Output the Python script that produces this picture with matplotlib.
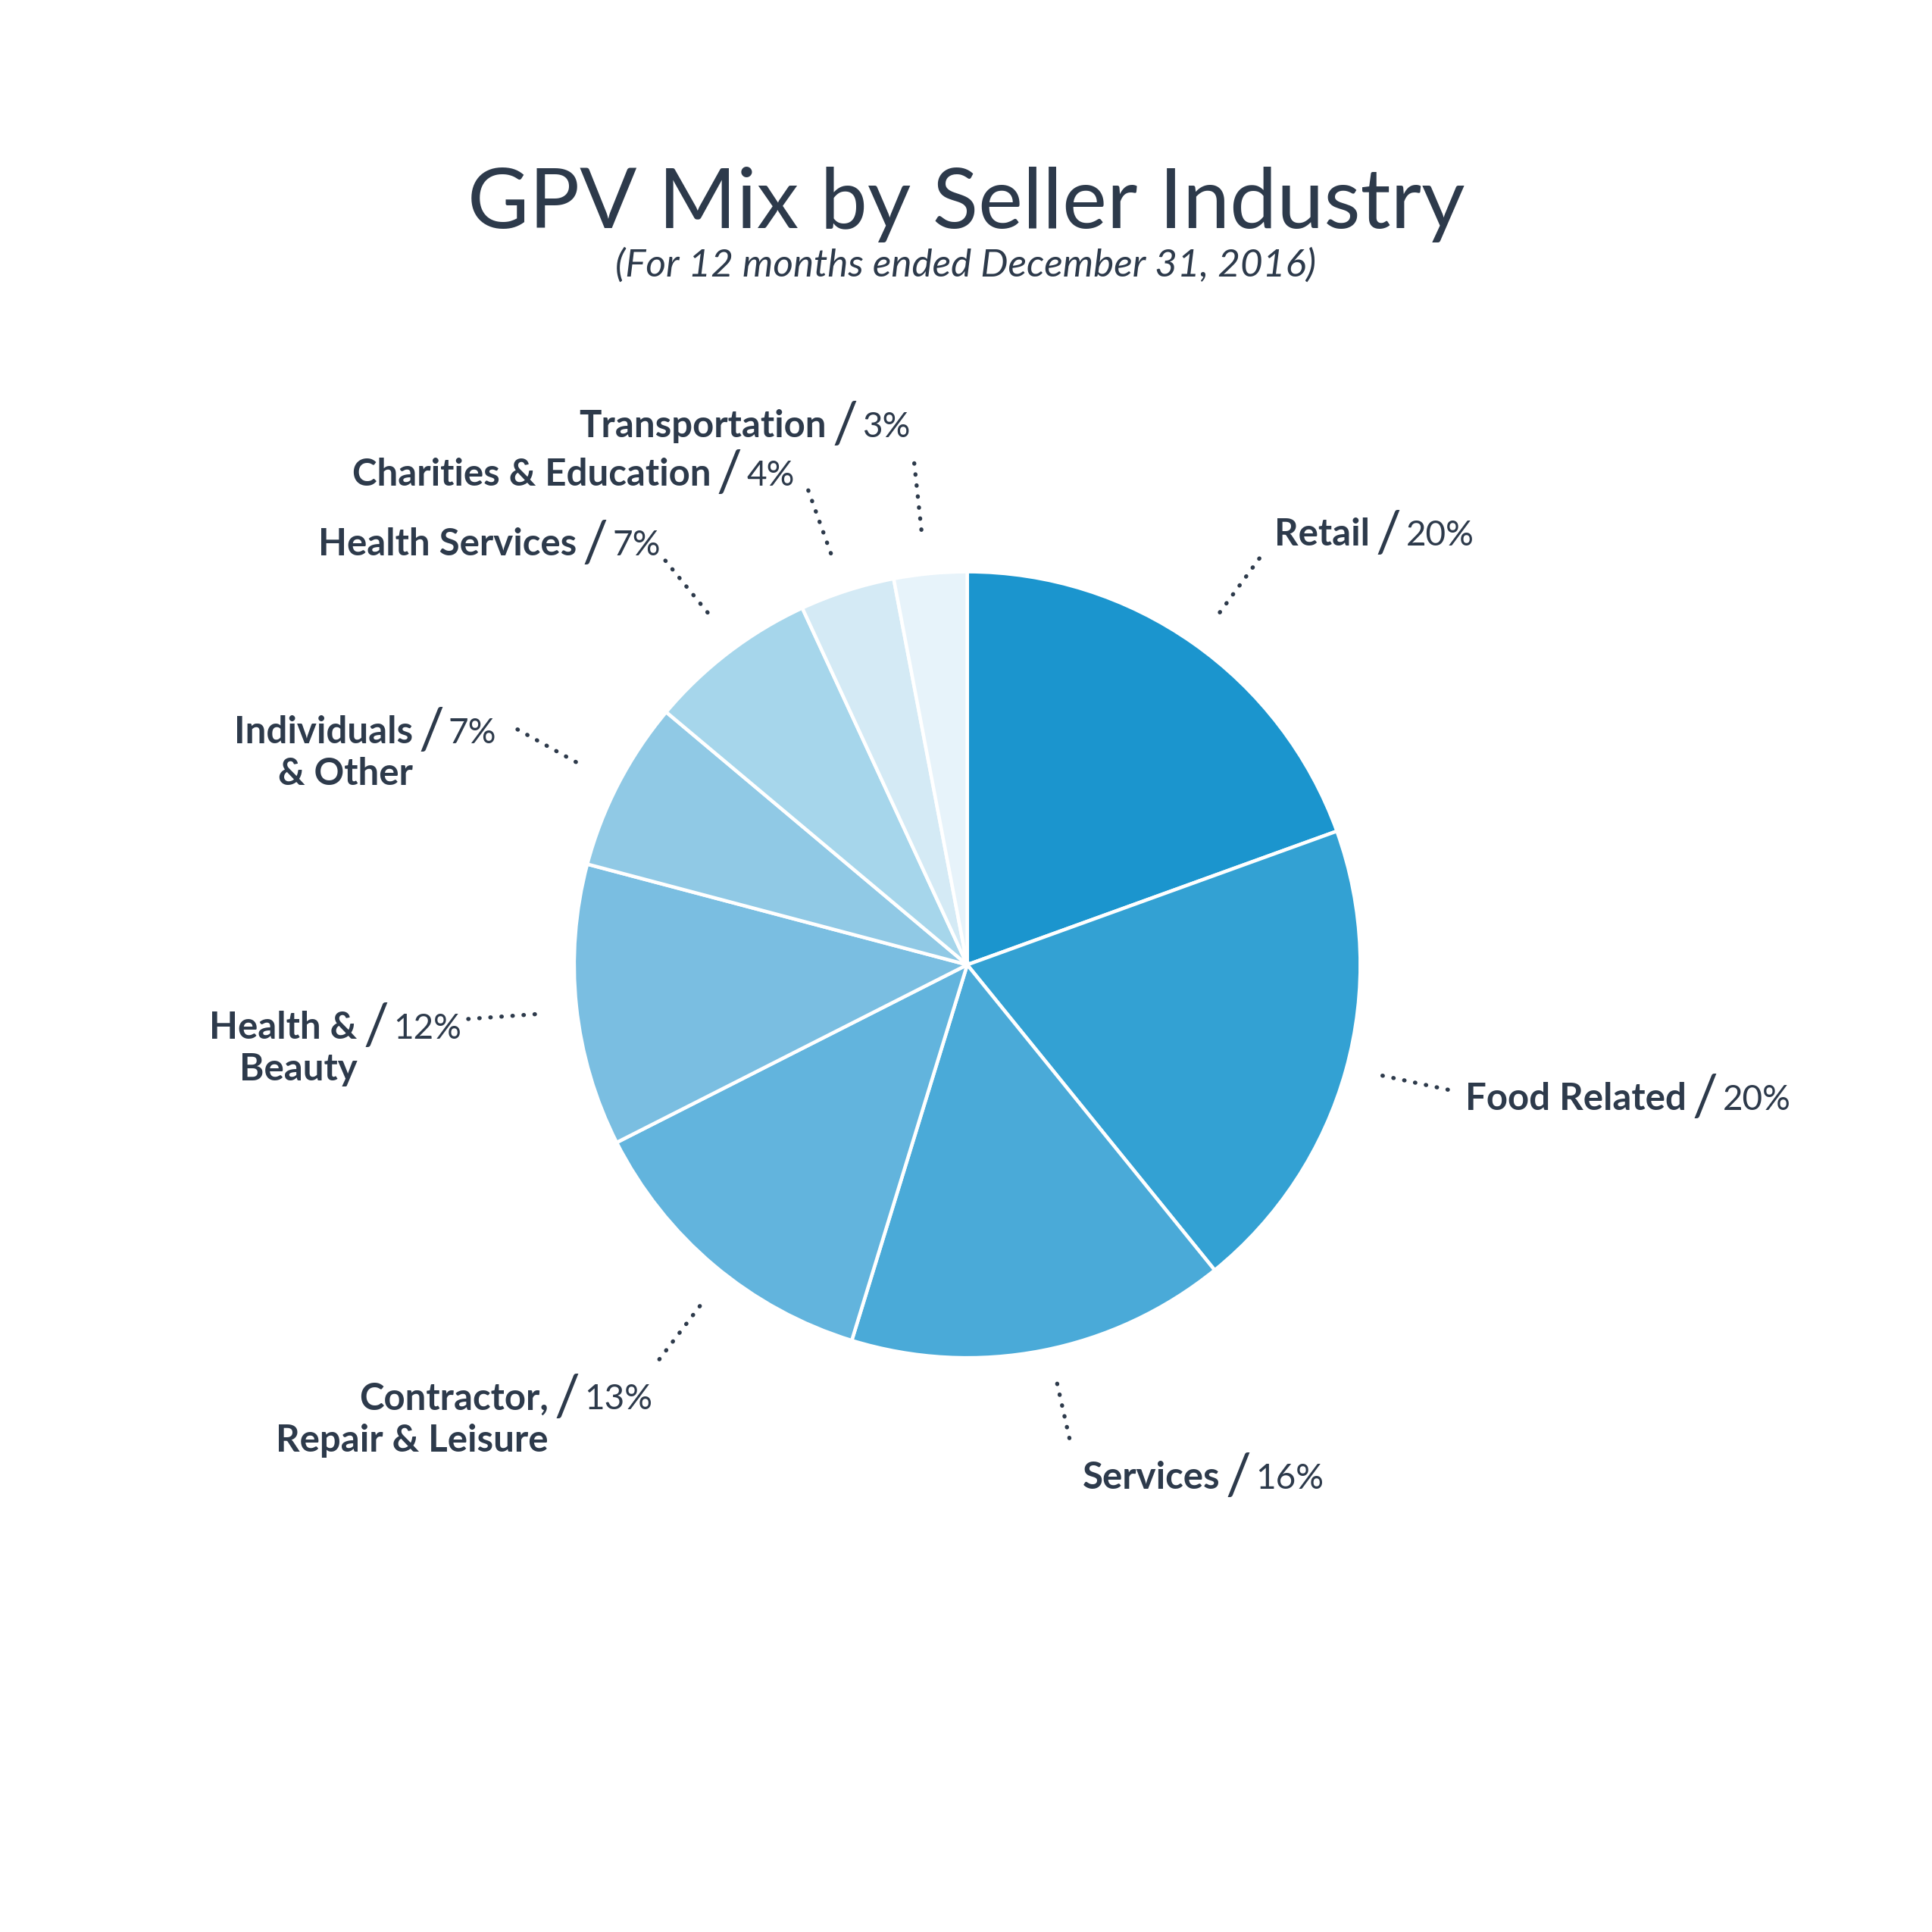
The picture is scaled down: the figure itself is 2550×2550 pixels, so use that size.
import numpy as np
import matplotlib.pyplot as plt

# data
industries = ['Retail', 'Food Related', 'Services', 'Contractor,\nRepair & Leisure',
              'Health &\nBeauty', 'Individuals\n& Other', 'Health Services',
              'Charities & Education', 'Transportation']
shares = [19.5, 19.7, 15.6, 12.8, 11.6, 7.0, 7.0, 3.9, 3.0]
pct_labels = ['20%', '20%', '16%', '13%', '12%', '7%', '7%', '4%', '3%']
colors = ['#1b95ce', '#33a1d3', '#4aaad8', '#62b4dd', '#7abee1',
          '#90c9e5', '#a6d6eb', '#d4eaf5', '#e7f3fa']

INK = '#2d3a4b'
FONT = ['Lato', 'DejaVu Sans']
S = 1568.0  # layout is worked out on a 1568 px grid, y measured from the top


def Y(y):
    return S - y


# slash position of each label (x, y of cap centre) and leader line ends
label_pos = [(1127, 432), (1384, 890), (1005, 1197), (460, 1133), (305, 832),
             (350, 592), (483, 440), (592, 383), (686, 344)]
leaders = [((990, 497), (1023, 452)), ((1122, 873), (1178, 885)),
           ((858, 1123), (869, 1172)), ((568, 1060), (533, 1106)),
           ((380, 827), (436, 823)), ((420, 592), (472, 621)),
           ((540, 455), (575, 498)), ((656, 398), (675, 451)),
           ((742, 376), (748, 432))]

fig = plt.figure(figsize=(8.5, 8.5), dpi=300)
ax = fig.add_axes([0, 0, 1, 1])

explode = [0.02] + [0] * (len(shares) - 1)
ax.pie(shares, colors=colors, startangle=90, counterclock=False,
       center=(785, Y(783)), radius=319, explode=explode,
       wedgeprops=dict(edgecolor='white', linewidth=1.1), frame=True)
ax.set_xlim(0, S)
ax.set_ylim(0, S)
ax.set_aspect('equal')
ax.axis('off')

fig.text(0.5, 1 - 185 / S, 'GPV Mix by Seller Industry', ha='center', va='baseline',
         fontsize=26.7, color=INK, family=FONT, fontweight='normal')
fig.text(0.5, 1 - 224 / S, '(For 12 months ended December 31, 2016)', ha='center',
         va='baseline', fontsize=12.3, color=INK, family=FONT, style='italic',
         fontweight='normal')

cap = 22
line_gap = 34
for name, pct, (sx, sy), (p0, p1) in zip(industries, pct_labels, label_pos, leaders):
    base = sy + cap / 2
    for i, line in enumerate(name.split('\n')):
        ax.text(sx - 15, Y(base + i * line_gap), line, ha='right', va='baseline',
                fontsize=11.8, fontweight='bold', color=INK, family=FONT)
    ax.text(sx, Y(base + 5), '/', ha='center', va='baseline', fontsize=18,
            fontweight='normal', color=INK, family=FONT)
    ax.text(sx + 14, Y(base), pct, ha='left', va='baseline', fontsize=11,
            fontweight='normal', color=INK, family=FONT)
    ax.plot([p0[0], p1[0]], [Y(p0[1]), Y(p1[1])], color=INK, linewidth=1.3,
            linestyle=(0, (0.1, 2.6)), dash_capstyle='round', solid_capstyle='round')

fig.savefig('out.png', dpi=300, facecolor='white')
